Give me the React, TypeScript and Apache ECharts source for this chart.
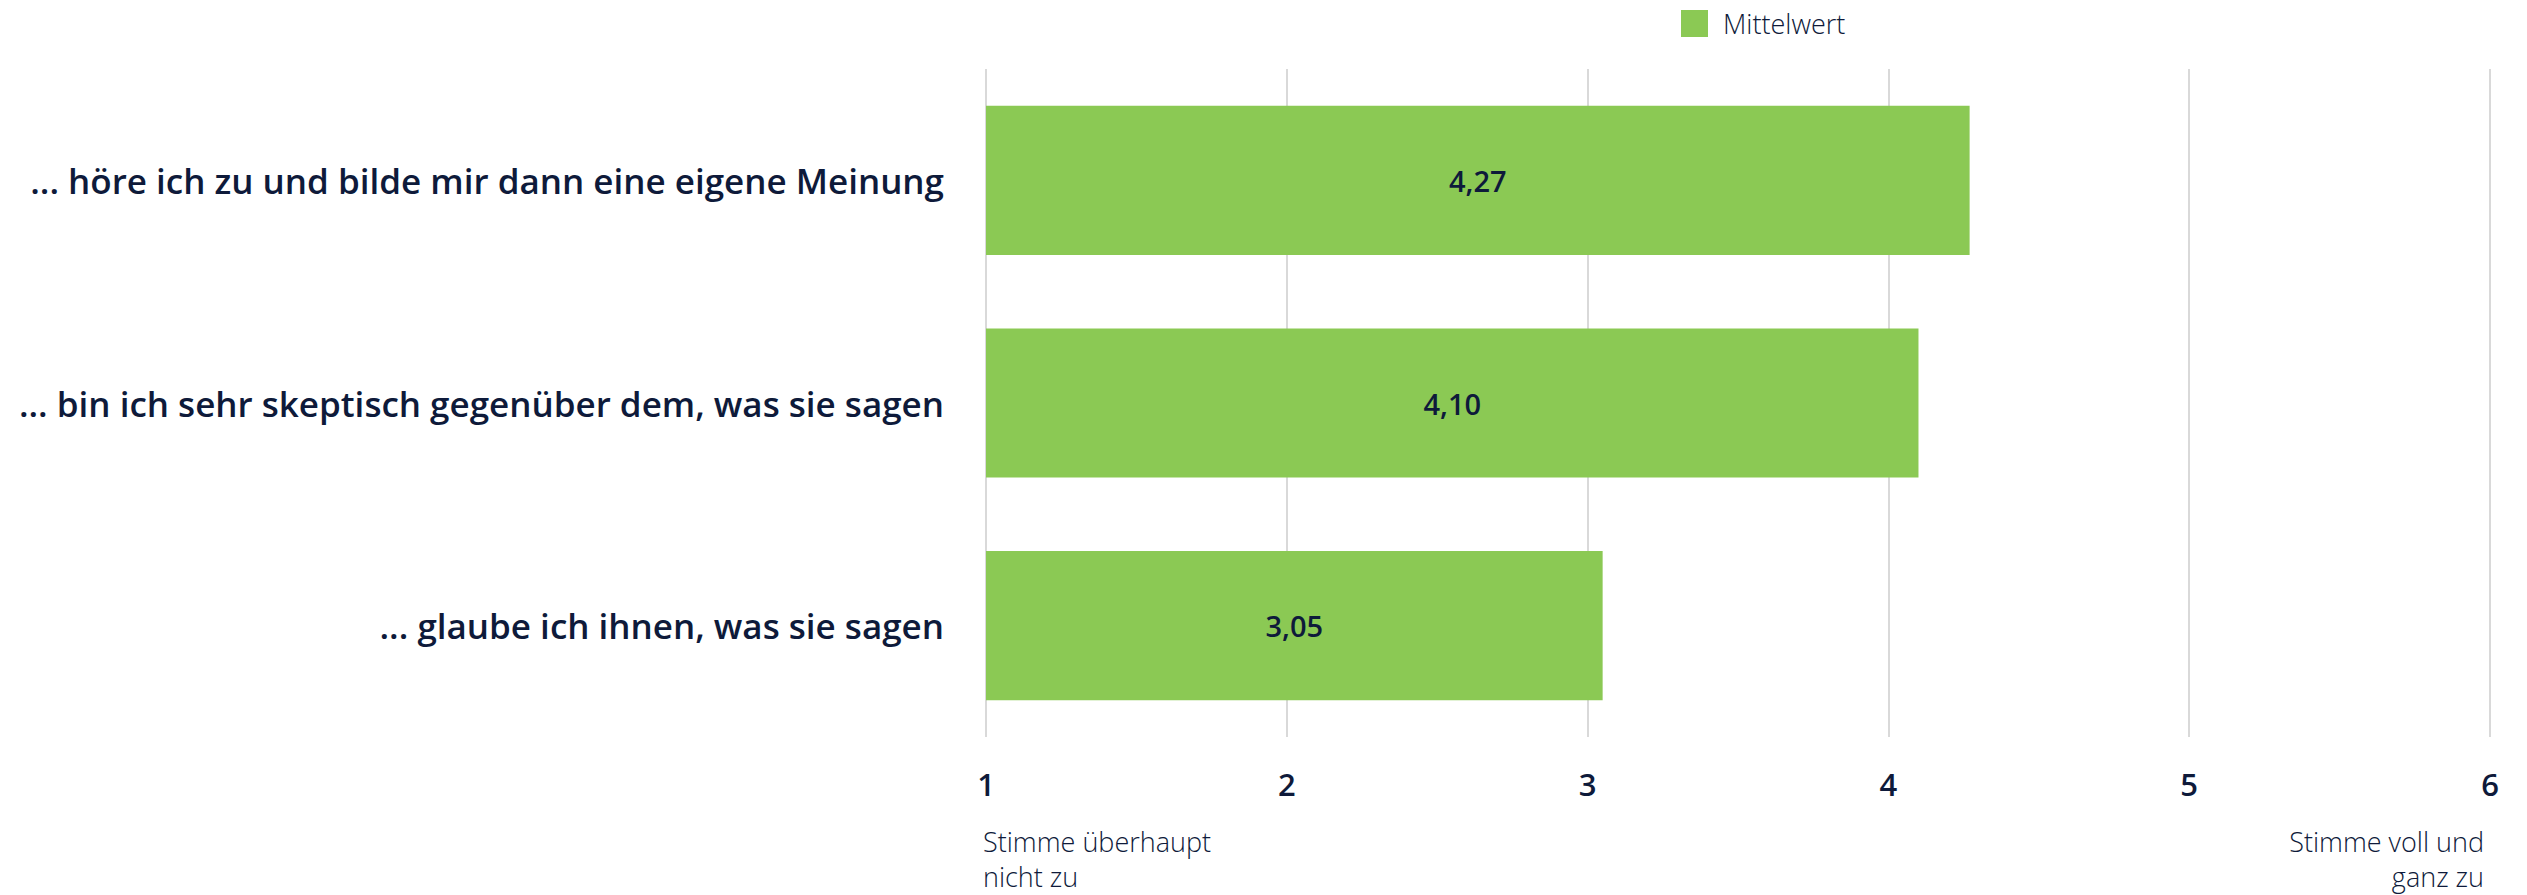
import React, { useEffect, useRef } from "react";
import * as echarts from "echarts";

const categories = [
  "... höre ich zu und bilde mir dann eine eigene Meinung",
  "... bin ich sehr skeptisch gegenüber dem, was sie sagen",
  "... glaube ich ihnen, was sie sagen",
];
const meanValues = [4.27, 4.1, 3.05];
const seriesName = "Mittelwert";
const axisMin = 1;
const axisMax = 6;
const leftNote = "Stimme überhaupt\nnicht zu";
const rightNote = "Stimme voll und\nganz zu";

const FONT = "'Open Sans', 'Noto Sans', sans-serif";
const TEXT = "#0e1a3a";

export default function App() {
  const ref = useRef<HTMLDivElement>(null);
  useEffect(() => {
    if (!ref.current) return;
    const chart = echarts.init(ref.current, null, { renderer: "svg" });
    chart.setOption({
      animation: false,
      backgroundColor: "#ffffff",
      textStyle: { fontFamily: FONT },
      legend: {
        left: 1681,
        top: 10,
        padding: 0,
        itemWidth: 27,
        itemHeight: 27,
        itemGap: 10,
        icon: "rect",
        textStyle: {
          fontSize: 27,
          fontWeight: 300,
          color: TEXT,
          fontFamily: FONT,
          padding: [0, 0, 0, 10],
        },
        data: [seriesName],
      },
      grid: { left: 986, right: 37, top: 69, bottom: 158, containLabel: false },
      xAxis: {
        type: "value",
        min: axisMin,
        max: axisMax,
        interval: 1,
        axisLine: { show: false },
        axisTick: { show: false },
        splitLine: { show: true, lineStyle: { color: "#d9d9d9", width: 2 } },
        axisLabel: {
          fontSize: 31,
          fontWeight: 600,
          color: TEXT,
          margin: 31,
          fontFamily: FONT,
        },
      },
      yAxis: {
        type: "category",
        inverse: true,
        data: categories,
        axisLine: { show: false },
        axisTick: { show: false },
        axisLabel: {
          fontSize: 35,
          fontWeight: 600,
          color: TEXT,
          margin: 42,
          fontFamily: FONT,
        },
      },
      series: [
        {
          name: seriesName,
          type: "bar",
          data: meanValues,
          barCategoryGap: "33%",
          itemStyle: { color: "#8bc954" },
          label: {
            show: true,
            position: "inside",
            fontSize: 29,
            fontWeight: 600,
            color: TEXT,
            fontFamily: FONT,
            formatter: (p: any) => Number(p.value).toFixed(2).replace(".", ","),
          },
        },
      ],
      graphic: [
        {
          type: "text",
          left: 983,
          top: 824,
          style: {
            text: leftNote,
            fontSize: 27,
            fontWeight: 300,
            lineHeight: 35,
            fill: TEXT,
            fontFamily: FONT,
            textAlign: "left",
          },
        },
        {
          type: "text",
          right: 2527 - 2484,
          top: 824,
          style: {
            text: rightNote,
            fontSize: 27,
            fontWeight: 300,
            lineHeight: 35,
            fill: TEXT,
            fontFamily: FONT,
            textAlign: "right",
          },
        },
      ],
    });
    return () => chart.dispose();
  }, []);
  return (
    <div
      ref={ref}
      style={{ position: "absolute", left: 0, top: 0, width: 2527, height: 895 }}
    />
  );
}
